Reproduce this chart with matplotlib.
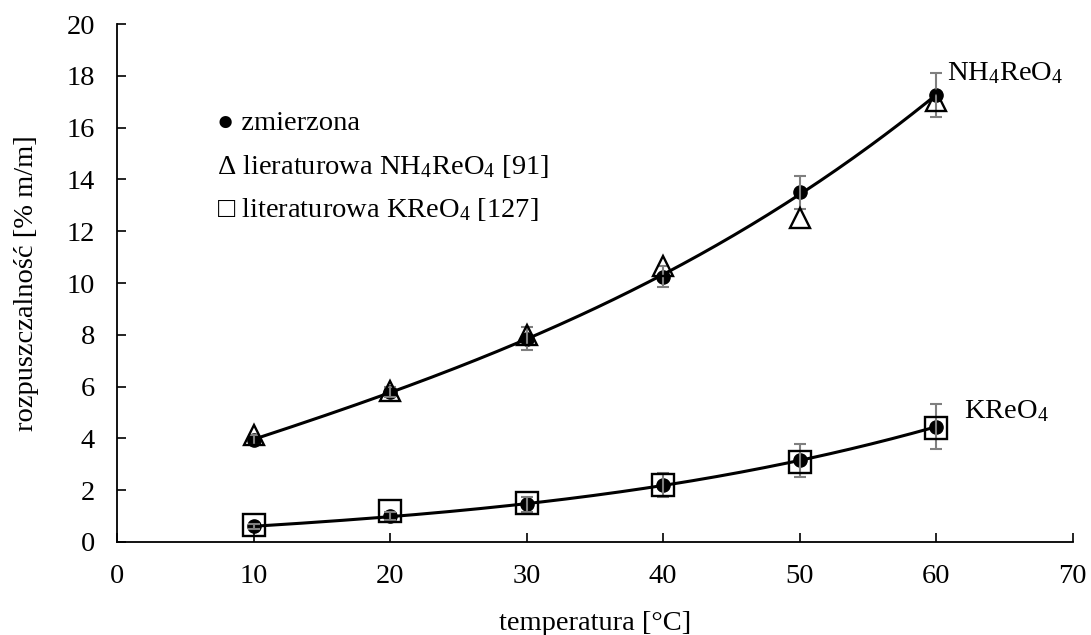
import numpy as np
import matplotlib
matplotlib.use("Agg")
import matplotlib.pyplot as plt
from matplotlib import rcParams

rcParams['font.family'] = ['Liberation Serif', 'DejaVu Serif']
rcParams['mathtext.fontset'] = 'custom'
rcParams['mathtext.rm'] = 'Liberation Serif'
rcParams['mathtext.it'] = 'Liberation Serif:italic'
rcParams['font.size'] = 20.5

# temperatura [°C]
temp = [10, 20, 30, 40, 50, 60]
# zmierzona rozpuszczalnosc NH4ReO4 i KReO4 [% m/m]
nh4_meas = [3.95, 5.8, 7.85, 10.25, 13.5, 17.25]
nh4_err = [0.2, 0.2, 0.45, 0.4, 0.65, 0.85]
k_meas = [0.6, 1.0, 1.45, 2.2, 3.15, 4.45]
k_err = [0.1, 0.15, 0.3, 0.45, 0.65, 0.87]
# dane literaturowe
nh4_lit = [4.15, 5.85, 8.0, 10.65, 12.5, 17.05]
k_lit = [0.65, 1.2, 1.5, 2.2, 3.1, 4.4]

fig = plt.figure(figsize=(10.91, 6.35), dpi=100)
ax = fig.add_axes([0.1073, 0.1465, 0.876, 0.8155])

# linie trendu (wielomian)
xs = np.linspace(10, 60, 200)
for meas in (nh4_meas, k_meas):
    p = np.polyfit(temp, meas, 3)
    ax.plot(xs, np.polyval(p, xs), color='black', lw=2.2, zorder=2)

ax.plot(temp, nh4_meas, 'o', color='black', ms=9.5, zorder=3)
ax.plot(temp, k_meas, 'o', color='black', ms=9.5, zorder=3)
ax.errorbar(temp, nh4_meas, yerr=nh4_err, fmt='none', ecolor='#7f7f7f',
            elinewidth=1.5, capsize=4, capthick=1.5, zorder=4)
ax.errorbar(temp, k_meas, yerr=k_err, fmt='none', ecolor='#7f7f7f',
            elinewidth=1.5, capsize=4, capthick=1.5, zorder=4)
ax.plot(temp, nh4_lit, '^', mfc='none', mec='black', mew=1.7, ms=15, zorder=5)
ax.plot(temp, k_lit, 's', mfc='none', mec='black', mew=1.7, ms=16, zorder=5)

ax.set_xlim(0, 70)
ax.set_ylim(0, 20)
ax.set_xticks(range(0, 71, 10))
ax.set_yticks(range(0, 21, 2))
ax.spines['top'].set_visible(False)
ax.spines['right'].set_visible(False)
for s in ('left', 'bottom'):
    ax.spines[s].set_linewidth(1.3)
ax.tick_params(direction='in', length=6.5, width=1.2, pad=16)

ax.set_xlabel('temperatura [°C]', labelpad=16)
ax.set_ylabel('rozpuszczalność [% m/m]', labelpad=20)

# opisy krzywych
ax.text(60.8, 18.1, r'NH$_4$ReO$_4$', va='center', ha='left')
ax.text(62.0, 5.05, r'KReO$_4$', va='center', ha='left')

# legenda jako tekst
ax.text(7.3, 16.15, '● zmierzona', va='center', ha='left')
ax.text(7.3, 14.5, r'Δ lieraturowa NH$_4$ReO$_4$ [91]', va='center', ha='left')
ax.text(7.3, 12.85, r'□ literaturowa KReO$_4$ [127]', va='center', ha='left')

fig.savefig('out.png', dpi=100)
